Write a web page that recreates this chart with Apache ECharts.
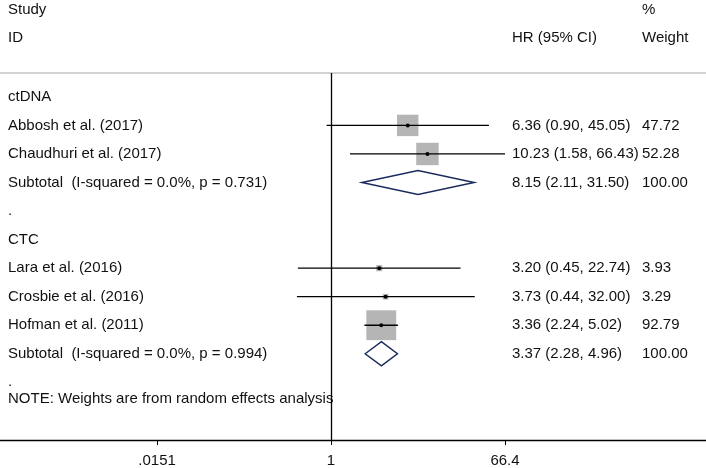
<!DOCTYPE html>
<html>
<head>
<meta charset="utf-8">
<script src="https://cdn.jsdelivr.net/npm/echarts@6/dist/echarts.min.js"></script>
<style>
  html, body { margin: 0; padding: 0; background: #fff; }
  #main { width: 706px; height: 468px; }
</style>
</head>
<body>
<div id="main"></div>
<script>
// rows from top to bottom
const rowLabels = [
  'ctDNA',
  'Abbosh et al. (2017)',
  'Chaudhuri et al. (2017)',
  'Subtotal  (I-squared = 0.0%, p = 0.731)',
  '.',
  'CTC',
  'Lara et al. (2016)',
  'Crosbie et al. (2016)',
  'Hofman et al. (2011)',
  'Subtotal  (I-squared = 0.0%, p = 0.994)',
  '.'
]
const rowKinds = ['group', 'study', 'study', 'subtotal', 'blank', 'group', 'study', 'study', 'study', 'subtotal', 'blank']
const hr = [null, 6.36, 10.23, 8.15, null, null, 3.20, 3.73, 3.36, 3.37, null]
const ciLow = [null, 0.90, 1.58, 2.11, null, null, 0.45, 0.44, 2.24, 2.28, null]
const ciHigh = [null, 45.05, 66.43, 31.50, null, null, 22.74, 32.00, 5.02, 4.96, null]
const weights = [null, 47.72, 52.28, 100.00, null, null, 3.93, 3.29, 92.79, 100.00, null]
const tickValues = [0.0151, 1, 66.4]
const tickLabels = ['.0151', '1', '66.4']

const FONT = 'Liberation Sans, Arial, Helvetica, sans-serif'
const FS = 15
const TXT = '#111'
const lg = v => Math.log10(v)
const fmt = v => v.toFixed(2)

const chart = echarts.init(document.getElementById('main'))

const txt = (x, y, text) => ({
  type: 'text',
  x: x, y: y,
  style: { text: text, fontSize: FS, fontFamily: FONT, fill: TXT, verticalAlign: 'middle' }
})

const renderRow = (params, api) => {
  const i = api.value(0)
  const y = api.coord([0, i])[1]
  const kids = [txt(8, y, rowLabels[i])]
  if (hr[i] != null) {
    const xc = api.coord([lg(hr[i]), i])[0]
    const xl = api.coord([lg(ciLow[i]), i])[0]
    const xh = api.coord([lg(ciHigh[i]), i])[0]
    if (rowKinds[i] === 'study') {
      // box area follows the study weight
      const s = 3.1 * Math.sqrt(weights[i])
      kids.push({ type: 'rect', shape: { x: xc - s / 2, y: y - s / 2, width: s, height: s }, style: { fill: '#b5b5b5' } })
      kids.push({ type: 'line', shape: { x1: xl, y1: y, x2: xh, y2: y }, style: { stroke: '#000', lineWidth: 1.3 } })
      kids.push({ type: 'circle', shape: { cx: xc, cy: y, r: 2 }, style: { fill: '#000' } })
    } else {
      kids.push({
        type: 'polygon',
        shape: { points: [[xl, y], [xc, y - 12], [xh, y], [xc, y + 12]] },
        style: { fill: '#fff', stroke: '#1c2a5e', lineWidth: 1.5 }
      })
    }
    kids.push(txt(512, y, fmt(hr[i]) + ' (' + fmt(ciLow[i]) + ', ' + fmt(ciHigh[i]) + ')'))
    kids.push(txt(642, y, fmt(weights[i])))
  }
  return { type: 'group', children: kids }
}

const xMin = -331 / 95.5
const xMax = 375 / 95.5
const logTicks = tickValues.map(lg)

chart.setOption({
  animation: false,
  grid: { left: 0, right: 0, top: 73, bottom: 26 },
  xAxis: [
    {
      type: 'value',
      min: xMin,
      max: xMax,
      splitLine: { show: false },
      axisLine: { onZero: false, lineStyle: { color: '#000', width: 1.3 } },
      axisTick: { customValues: logTicks, length: 5, lineStyle: { color: '#000' } },
      axisLabel: {
        customValues: logTicks,
        margin: 13,
        fontSize: FS,
        fontFamily: FONT,
        color: TXT,
        formatter: v => {
          const k = logTicks.findIndex(t => Math.abs(t - v) < 1e-6)
          return k >= 0 ? tickLabels[k] : ''
        }
      }
    },
    {
      type: 'value',
      position: 'top',
      min: xMin,
      max: xMax,
      splitLine: { show: false },
      axisLine: { onZero: false, lineStyle: { color: '#d2d2d2', width: 2 } },
      axisTick: { show: false },
      axisLabel: { show: false }
    }
  ],
  yAxis: {
    type: 'value',
    inverse: true,
    min: -24 / 28.7,
    max: -24 / 28.7 + 369 / 28.7,
    show: false
  },
  graphic: [
    txt(8, 10, 'Study'),
    txt(642, 10, '%'),
    txt(8, 38, 'ID'),
    txt(512, 38, 'HR (95% CI)'),
    txt(642, 38, 'Weight'),
    txt(8, 399, 'NOTE: Weights are from random effects analysis')
  ],
  series: [
    {
      type: 'custom',
      clip: false,
      renderItem: renderRow,
      data: rowLabels.map((_, i) => [i]),
      encode: { y: 0 },
      markLine: {
        silent: true,
        symbol: 'none',
        label: { show: false },
        lineStyle: { color: '#000', width: 1.3, type: 'solid' },
        data: [{ xAxis: 0 }]
      }
    }
  ]
})
</script>
</body>
</html>
